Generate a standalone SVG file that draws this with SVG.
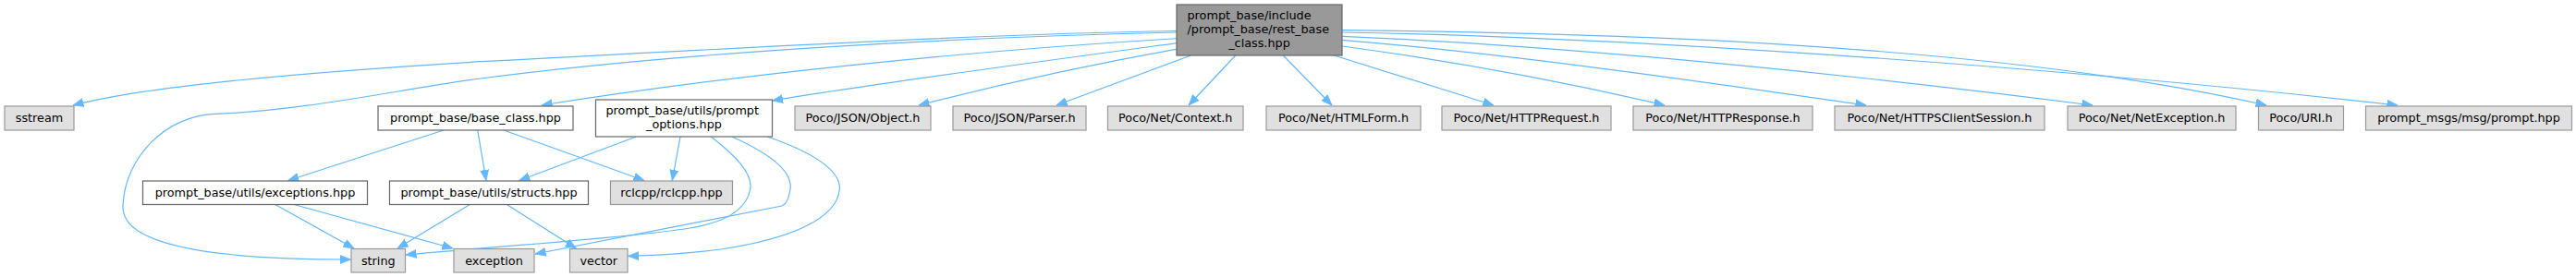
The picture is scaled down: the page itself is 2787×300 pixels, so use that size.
<svg xmlns="http://www.w3.org/2000/svg" width="2787" height="300" viewBox="0 0 2787 300">
<style>
text{font-family:"DejaVu Sans","Liberation Sans",sans-serif;font-size:12.8px;fill:#000}
.c{text-anchor:middle}
.root rect{fill:#999999;stroke:#666666;stroke-width:1.2}
.w rect{fill:#ffffff;stroke:#666666;stroke-width:1.2}
.g rect{fill:#e0e0e0;stroke:#999999;stroke-width:1.2}
#edges path{fill:none;stroke:#63b8ff;stroke-width:1.2;marker-end:url(#arr)}
</style>
<defs>
<marker id="arr" markerUnits="userSpaceOnUse" markerWidth="12" markerHeight="10" viewBox="0 0 12 10" refX="11.5" refY="5" orient="auto">
<path d="M0,0.5 L11.5,5 L0,9.5 z" fill="#63b8ff" stroke="#63b8ff" stroke-width="0.8"/>
</marker>
</defs>
<g id="edges">
<!-- root to left side -->
<path d="M1273,33.5 C1050,37 750,55 520,66.7 C350,77 160,92 79,114"/>
<path d="M1273,35 C1050,40 750,55 520,85 C430,97 330,120 233,123.3 C180,125 135,170 133,223 C131,270 250,281 379.5,281"/>
<path d="M1273,41.7 C1050,55 800,80 586,114"/>
<path d="M1273,46.7 C1100,70 950,90 835.5,109"/>
<path d="M1273,53.3 C1180,70 1080,92 994,114"/>
<path d="M1288.3,60 L1143,114"/>
<path d="M1336.7,60 L1286,114"/>
<!-- root to right side -->
<path d="M1388.3,60 L1441,114"/>
<path d="M1443.3,60 L1616,114"/>
<path d="M1452,50 C1600,70 1720,95 1801,114"/>
<path d="M1452,43.3 C1650,60 1850,90 2019,114"/>
<path d="M1452,39.3 C1700,50 2000,80 2264,114"/>
<path d="M1452,32.7 C1700,35 2150,45 2452,114"/>
<path d="M1452,35 C1750,40 2200,70 2594,114"/>
<!-- base_class -->
<path d="M480,141 L311.7,195.5"/>
<path d="M516.7,141 L526,195.5"/>
<path d="M545,141 L697,195.5"/>
<!-- prompt_options -->
<path d="M688.3,148 L561.7,195.5"/>
<path d="M736,148 L727.3,195.5"/>
<path d="M769.3,148 C795,168 815,188 811.7,205 C808,225 790,240 746.7,247 C680,258 520,268 439,276"/>
<path d="M791.7,148 C830,165 858,185 855,205 C853,215 852,220 846,223 L579,275"/>
<path d="M830,148 C880,165 910,185 908.3,205 C906,235 860,258 780,270 C740,275 700,277 679.5,277.3"/>
<!-- exceptions -->
<path d="M297.7,221.5 L383,269"/>
<path d="M318,221.5 L490,269"/>
<!-- structs -->
<path d="M508.3,221.5 L430,269"/>
<path d="M548.3,221.5 L623.3,269"/>
</g>
<g id="node_root" class="root">
<rect x="1273" y="5" width="179" height="55"/>
<text x="1284.5" y="21">prompt_base/include</text>
<text x="1284.5" y="36">/prompt_base/rest_base</text>
<text class="c" x="1362.5" y="51">_class.hpp</text>
</g>
<g id="node_sstream" class="g"><rect x="5" y="115" width="75" height="26"/><text class="c" x="42.5" y="132">sstream</text></g>
<g id="node_base_class" class="w"><rect x="409" y="115" width="211" height="26"/><text class="c" x="514.5" y="132">prompt_base/base_class.hpp</text></g>
<g id="node_prompt_options" class="w"><rect x="644.5" y="108" width="191" height="40"/><text x="655.5" y="124">prompt_base/utils/prompt</text><text class="c" x="740" y="139">_options.hpp</text></g>
<g id="node_json_object" class="g"><rect x="860" y="115" width="147" height="26"/><text class="c" x="933.5" y="132">Poco/JSON/Object.h</text></g>
<g id="node_json_parser" class="g"><rect x="1031" y="115" width="144" height="26"/><text class="c" x="1103" y="132">Poco/JSON/Parser.h</text></g>
<g id="node_net_context" class="g"><rect x="1198.5" y="115" width="146.5" height="26"/><text class="c" x="1271.75" y="132">Poco/Net/Context.h</text></g>
<g id="node_net_htmlform" class="g"><rect x="1370" y="115" width="167" height="26"/><text class="c" x="1453.5" y="132">Poco/Net/HTMLForm.h</text></g>
<g id="node_net_httprequest" class="g"><rect x="1560" y="115" width="183" height="26"/><text class="c" x="1651.5" y="132">Poco/Net/HTTPRequest.h</text></g>
<g id="node_net_httpresponse" class="g"><rect x="1767" y="115" width="194" height="26"/><text class="c" x="1864" y="132">Poco/Net/HTTPResponse.h</text></g>
<g id="node_net_httpsclientsession" class="g"><rect x="1985" y="115" width="227" height="26"/><text class="c" x="2098.5" y="132">Poco/Net/HTTPSClientSession.h</text></g>
<g id="node_net_netexception" class="g"><rect x="2237" y="115" width="182" height="26"/><text class="c" x="2328" y="132">Poco/Net/NetException.h</text></g>
<g id="node_uri" class="g"><rect x="2443.5" y="115" width="92" height="26"/><text class="c" x="2489.5" y="132">Poco/URI.h</text></g>
<g id="node_prompt_msg" class="g"><rect x="2559.5" y="115" width="223" height="26"/><text class="c" x="2671" y="132">prompt_msgs/msg/prompt.hpp</text></g>
<g id="node_exceptions" class="w"><rect x="154.5" y="196" width="243" height="25.5"/><text class="c" x="276" y="213">prompt_base/utils/exceptions.hpp</text></g>
<g id="node_structs" class="w"><rect x="421.5" y="196" width="215" height="25.5"/><text class="c" x="529" y="213">prompt_base/utils/structs.hpp</text></g>
<g id="node_rclcpp" class="g"><rect x="660.5" y="196" width="132" height="25.5"/><text class="c" x="726.5" y="213">rclcpp/rclcpp.hpp</text></g>
<g id="node_string" class="g"><rect x="380" y="269.5" width="58.5" height="25.5"/><text class="c" x="409.25" y="286.5">string</text></g>
<g id="node_exception" class="g"><rect x="491" y="269.5" width="87" height="25.5"/><text class="c" x="534.5" y="286.5">exception</text></g>
<g id="node_vector" class="g"><rect x="616.5" y="269.5" width="62.5" height="25.5"/><text class="c" x="647.75" y="286.5">vector</text></g>
</svg>
